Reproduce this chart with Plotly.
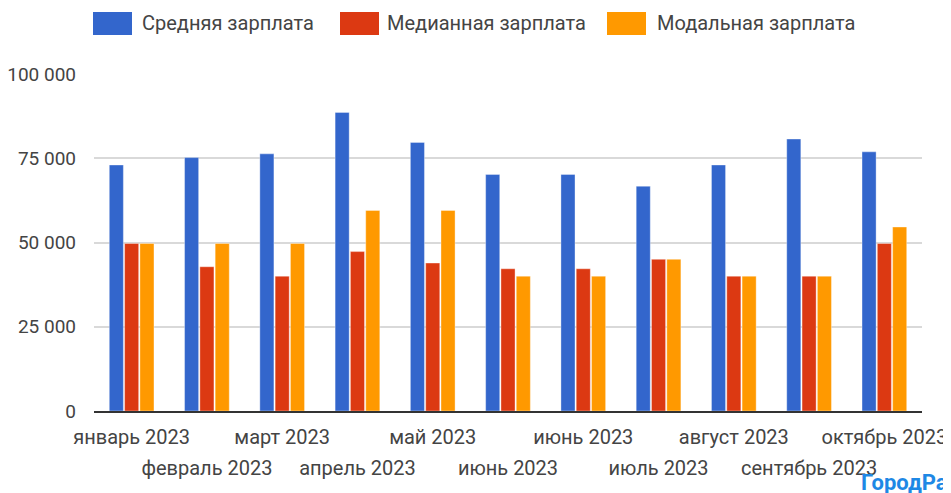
import plotly.graph_objects as go

months = ["январь 2023", "февраль 2023", "март 2023", "апрель 2023", "май 2023",
          "июнь 2023", "июнь 2023", "июль 2023", "август 2023", "сентябрь 2023",
          "октябрь 2023"]
series_names = ["Средняя зарплата", "Медианная зарплата", "Модальная зарплата"]
avg_salary = [73000, 75200, 76300, 88600, 79700, 70200, 70200, 66700, 73000, 80700, 76900]
median_salary = [49700, 42800, 40000, 47300, 43900, 42200, 42200, 45000, 40000, 40000, 49700]
modal_salary = [49700, 49700, 49700, 59500, 59500, 40000, 40000, 45000, 40000, 40000, 54600]
colors = ["#3366cc", "#dc3912", "#ff9900"]
y_tickvals = [0, 25000, 50000, 75000, 100000]
y_ticktext = ["0", "25 000", "50 000", "75 000", "100 000"]
watermark = "ГородРабот.ру"

FONT = "Roboto, Arial, sans-serif"
TXT = "#444444"

# page has an 8px body margin, so the figure is sized to fit inside the window
W, H = 943, 485
L, R, T, B = 86, 29, 66, 82
PW, PH = W - L - R, H - T - B


def px(xp):  # figure pixel -> paper x
    return (xp - L) / PW


def py(yp):  # figure pixel -> paper y
    return (H - B - yp) / PH


x = list(range(len(months)))
row1_vals = x[0::2]
row1_text = months[0::2]
row2_vals = x[1::2]
row2_text = months[1::2]

fig = go.Figure()
for name, vals, col in zip(series_names, [avg_salary, median_salary, modal_salary], colors):
    fig.add_trace(go.Bar(x=x, y=vals, name=name,
                         marker=dict(color=col, line=dict(color="rgba(255,255,255,0.6)", width=0.6)),
                         showlegend=False))

# invisible helper trace so that the second label row (xaxis2) is drawn
fig.add_trace(go.Scatter(x=x, y=avg_salary, xaxis="x2", yaxis="y", mode="none",
                         hoverinfo="skip", showlegend=False))

# custom legend (large swatches like the original)
leg_x = [85, 332, 599]
text_x = [132, 377, 647]
for i, (name, col) in enumerate(zip(series_names, colors)):
    fig.add_shape(type="rect", xref="paper", yref="paper",
                  x0=px(leg_x[i]), x1=px(leg_x[i] + 39),
                  y0=py(27), y1=py(4),
                  fillcolor=col, line=dict(width=0))
    fig.add_annotation(text=name, xref="paper", yref="paper",
                       x=px(text_x[i]), y=py(15),
                       xanchor="left", yanchor="middle", showarrow=False,
                       font=dict(family=FONT, size=20, color=TXT))

fig.add_annotation(text="<b>" + watermark + "</b>", xref="paper", yref="paper",
                   x=px(851), y=py(474), xanchor="left", yanchor="middle",
                   showarrow=False, font=dict(family="Roboto, Arial, sans-serif", size=22, color="#1e88e5"))

fig.update_layout(
    width=W, height=H,
    margin=dict(l=L, r=R, t=T, b=B),
    paper_bgcolor="white", plot_bgcolor="white",
    barmode="group", bargap=0.39, bargroupgap=0.08,
    font=dict(family=FONT, size=20, color=TXT),
    showlegend=False,
    xaxis=dict(tickvals=row1_vals, ticktext=row1_text, range=[-0.5, len(months) - 0.5],
               showgrid=False, showline=True, linecolor="#333333", linewidth=2,
               ticks="", automargin=False, ticklabeloverflow="allow",
               ticklabelstandoff=7, tickangle=0,
               tickfont=dict(family=FONT, size=20, color=TXT)),
    xaxis2=dict(tickvals=row2_vals, ticktext=row2_text, range=[-0.5, len(months) - 0.5],
                overlaying="x", side="bottom", anchor="y",
                showgrid=False, showline=False, zeroline=False,
                ticks="", automargin=False, ticklabeloverflow="allow",
                ticklabelstandoff=43, tickangle=0,
                tickfont=dict(family=FONT, size=20, color=TXT)),
    yaxis=dict(range=[0, 100000], tickvals=y_tickvals, ticktext=y_ticktext,
               showgrid=True, gridcolor="#d9d9d9", gridwidth=2, zeroline=False,
               ticks="", ticklabelstandoff=17, automargin=False,
               tickfont=dict(family=FONT, size=19, color=TXT)),
)

fig.write_html("out.html")
